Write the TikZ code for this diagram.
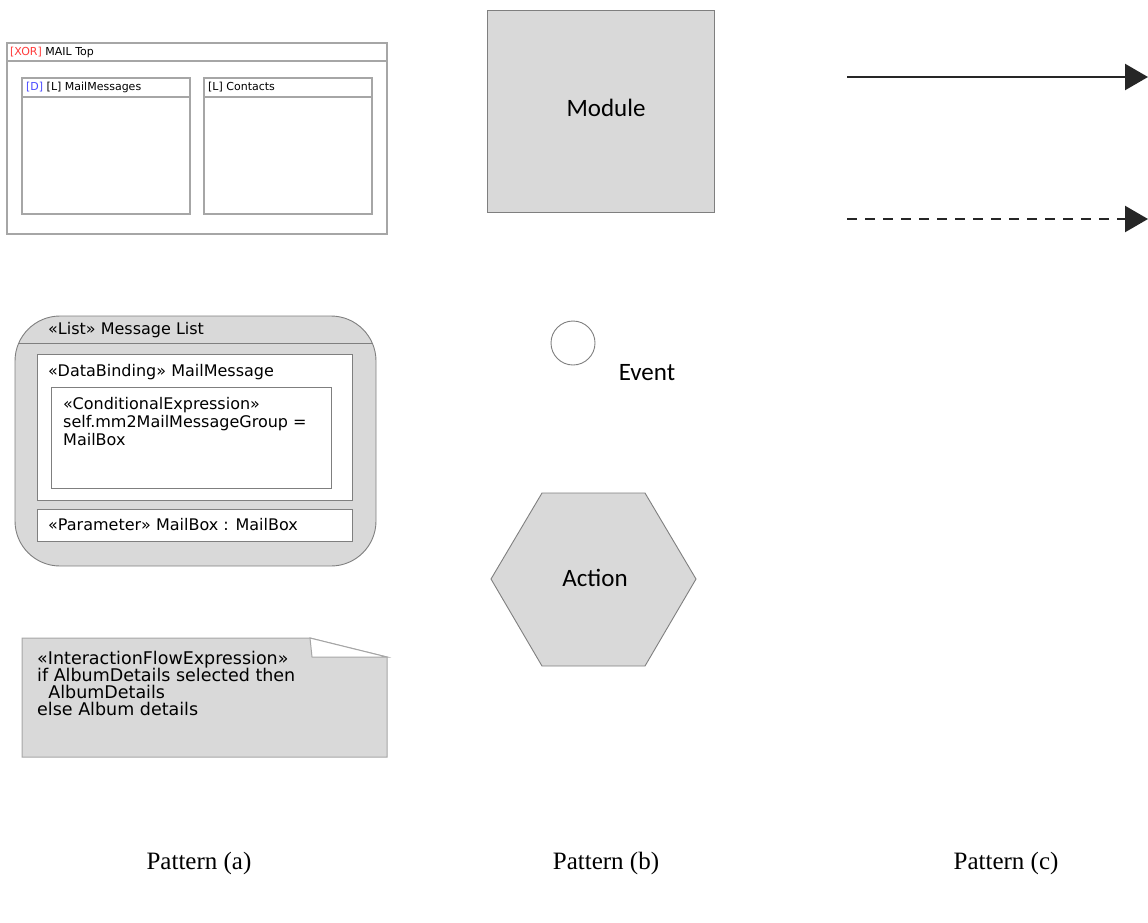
\documentclass[tikz,border=0pt]{standalone}
\usepackage{fontspec}
\setmainfont{Liberation Serif}
\newfontfamily\umlfont{DejaVu Sans}
\newfontfamily\calfont{Carlito}
\usetikzlibrary{arrows.meta}
\definecolor{boxgray}{HTML}{D9D9D9}
\definecolor{edgegray}{HTML}{7F7F7F}
\definecolor{lightedge}{HTML}{A6A6A6}
\definecolor{xorred}{HTML}{FF3B3B}
\definecolor{dblue}{HTML}{4B4BFF}
\definecolor{flowgray}{HTML}{262626}

\begin{document}
\begin{tikzpicture}[x=1pt,y=-1pt,
  frame/.style={draw=lightedge, line width=1.2pt},
  shaded/.style={draw=edgegray, fill=boxgray, line width=0.9pt},
  tinytxt/.style={font=\umlfont\fontsize{11}{13}\selectfont, anchor=west, inner sep=0pt},
  umltxt/.style={font=\umlfont\fontsize{16}{18}\selectfont, anchor=north west, inner sep=0pt, align=left},
  notetxt/.style={font=\umlfont\fontsize{17.5}{17}\selectfont, anchor=north west, inner sep=0pt, align=left},
  caltxt/.style={font=\calfont\fontsize{25}{30}\selectfont, inner sep=0pt},
  flow/.style={draw=flowgray, line width=2.4pt, -{Triangle[length=23pt,width=26pt]}},
  caption/.style={font=\fontsize{25}{30}\selectfont, inner sep=0pt}]
\useasboundingbox (0,0) rectangle (1148,922);

% pattern (a): XOR container
\draw[frame] (7,43) rectangle (387,234);
\draw[frame] (7,61) -- (387,61);
\node[tinytxt] (xortop) at (10,52) {\textcolor{xorred}{[XOR]} MAIL Top};
\draw[frame] (22,78) rectangle (190,214);
\draw[frame] (22,97) -- (190,97);
\node[tinytxt] (mailmsg) at (26,87.5) {\textcolor{dblue}{[D]} [L] MailMessages};
\draw[frame] (204,78) rectangle (372,214);
\draw[frame] (204,97) -- (372,97);
\node[tinytxt] (contacts) at (208,87.5) {[L] Contacts};

% pattern (a): list component
\draw[shaded, rounded corners=45pt] (15,316) rectangle (376,566);
\draw[draw=edgegray, line width=0.9pt] (19,343) -- (372,343);
\node[umltxt, anchor=west] (listhd) at (48,330) {«List» Message List};
\draw[draw=edgegray, fill=white, line width=0.9pt] (37,354) rectangle (352,500);
\node[umltxt, anchor=west] (binding) at (48,372) {«DataBinding» MailMessage};
\draw[draw=edgegray, fill=white, line width=0.9pt] (51,387) rectangle (331,488);
\node[umltxt] (condexpr) at (63,397) {«ConditionalExpression»\\self.mm2MailMessageGroup =\\MailBox};
\draw[draw=edgegray, fill=white, line width=0.9pt] (37,509) rectangle (352,541);
\node[umltxt, anchor=west] (param) at (48,525) {«Parameter» MailBox : MailBox};

% pattern (a): note
\draw[draw=lightedge, fill=boxgray, line width=1pt]
  (22,638) -- (310,638) -- (387,657) -- (387,757) -- (22,757) -- cycle;
\draw[draw=lightedge, fill=white, line width=1pt] (310,638) -- (312,657) -- (387,657) -- cycle;
\node[notetxt] (flowexpr) at (37,651) {«InteractionFlowExpression»\\if AlbumDetails selected then\\\ \ AlbumDetails\\else Album details};

% pattern (b)
\draw[shaded] (487,10) rectangle (714,212);
\node[caltxt] (module) at (606,108) {Module};
\node[draw=edgegray, line width=0.9pt, circle, minimum size=44pt, inner sep=0pt] (event) at (573,343) {};
\node[caltxt] (eventlbl) at (647,373) {Event};
\draw[shaded] (491,579) -- (542,493) -- (645,493) -- (696,579) -- (645,666) -- (542,666) -- cycle;
\node[caltxt] (action) at (595,578) {Action};

% pattern (c)
\coordinate (solidfrom) at (847,77);
\coordinate (solidto) at (1148,77);
\draw[flow] (solidfrom) -- (solidto);
\coordinate (dashfrom) at (847,219);
\coordinate (dashto) at (1148,219);
\draw[flow, dash pattern=on 10pt off 8pt] (dashfrom) -- (dashto);

\node[caption] (capa) at (199,863) {Pattern (a)};
\node[caption] (capb) at (606,863) {Pattern (b)};
\node[caption] (capc) at (1006,863) {Pattern (c)};
\end{tikzpicture}
\end{document}
